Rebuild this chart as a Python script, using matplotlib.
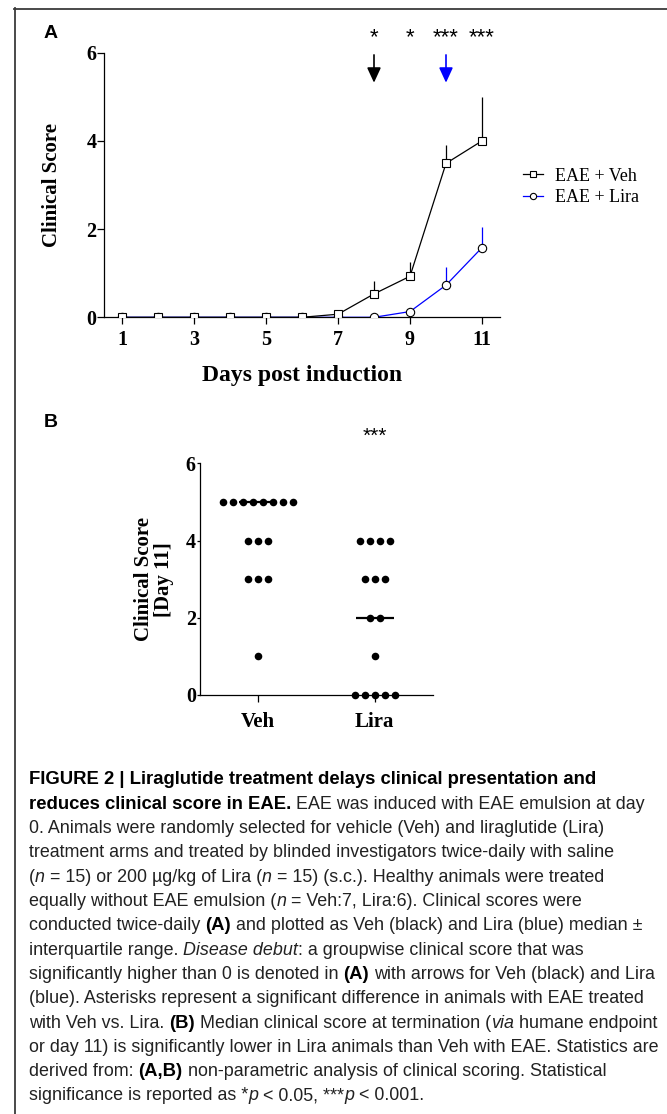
import numpy as np
import matplotlib
matplotlib.use("Agg")
import matplotlib.pyplot as plt
from matplotlib.lines import Line2D

# ---- data ----
days = [1, 2, 3, 4, 5, 6, 7, 8, 9, 10, 11]
veh_median = [0, 0, 0, 0, 0, 0, 0.07, 0.53, 0.93, 3.49, 4.0]
veh_q3 = [0, 0, 0, 0, 0, 0, 0.07, 0.82, 1.25, 3.9, 5.0]
lira_median = [0, 0, 0, 0, 0, 0, 0, 0, 0.13, 0.73, 1.58]
lira_q3 = [0, 0, 0, 0, 0, 0, 0, 0, 0.13, 1.13, 2.05]

sig_days = [8, 9, 10, 11]
sig_marks = ["*", "*", "***", "***"]
onset_veh = 8
onset_lira = 10

grupos = ["Veh", "Lira"]
veh_dia11 = [5, 5, 5, 5, 5, 5, 5, 5, 4, 4, 4, 3, 3, 3, 1]
lira_dia11 = [4, 4, 4, 4, 3, 3, 3, 2, 2, 1, 0, 0, 0, 0, 0]

W, H = 667, 1114
SERIF = "Liberation Serif"
SANS = "Liberation Sans"
TXT = "#222222"


def fx(px):
    return px / W


def fy(py):
    return 1 - py / H


fig = plt.figure(figsize=(W / 100, H / 100), dpi=100)

# marco parcial (arriba e izquierda)
fig.add_artist(Line2D([fx(14), 1], [fy(8.5), fy(8.5)], color="#3a3a3a", lw=1.3))
fig.add_artist(Line2D([fx(14.5), fx(14.5)], [fy(8), 0], color="#3a3a3a", lw=1.3))

# ---------------- panel A ----------------
axA = fig.add_axes([fx(104), fy(317.3), (500 - 104) / W, (317.3 - 52.7) / H])

lm = np.array(lira_median)
vm = np.array(veh_median)
axA.errorbar(days, lm, yerr=[np.zeros(len(days)), np.array(lira_q3) - lm],
             fmt="none", ecolor="blue", elinewidth=0.9, capsize=0, zorder=2)
hl, = axA.plot(days, lm, color="blue", lw=0.9, marker="o", ms=6,
               mfc="white", mec="black", mew=0.8, zorder=3, label="EAE + Lira")
axA.errorbar(days, vm, yerr=[np.zeros(len(days)), np.array(veh_q3) - vm],
             fmt="none", ecolor="black", elinewidth=0.9, capsize=0, zorder=4)
hv, = axA.plot(days, vm, color="black", lw=0.9, marker="s", ms=6.3,
               mfc="white", mec="black", mew=0.8, zorder=5, label="EAE + Veh")

axA.set_xlim(0.5, 11.5)
axA.set_ylim(0, 6)
axA.set_xticks([1, 3, 5, 7, 9, 11])
axA.set_yticks([0, 2, 4, 6])
for sp in ["top", "right"]:
    axA.spines[sp].set_visible(False)
for sp in ["left", "bottom"]:
    axA.spines[sp].set_linewidth(0.9)
axA.tick_params(axis="both", direction="out", length=5, width=0.9)
axA.tick_params(axis="y", pad=0.5)
axA.tick_params(axis="x", pad=4)
for lab in axA.get_xticklabels() + axA.get_yticklabels():
    lab.set_fontfamily(SERIF)
    lab.set_fontweight("bold")
    lab.set_fontsize(14.5)

axA.set_ylabel("Clinical Score", family=SERIF, weight="bold", fontsize=15)
axA.yaxis.set_label_coords((62 - 104) / 396, 0.5)
axA.set_xlabel("Days post induction", family=SERIF, weight="bold", fontsize=17)
axA.xaxis.set_label_coords(0.5, -0.18)

for d, m in zip(sig_days, sig_marks):
    axA.text(d, 6.22, m, ha="center", va="baseline", fontsize=16,
             family=SANS, clip_on=False)

for d, c in [(onset_veh, "black"), (onset_lira, "blue")]:
    axA.annotate("", xy=(d, 5.32), xytext=(d, 5.95), annotation_clip=False,
                 arrowprops=dict(arrowstyle="-|>,head_length=0.65,head_width=0.3",
                                 color=c, lw=1.2, shrinkA=0, shrinkB=0,
                                 mutation_scale=14))

fig.legend(handles=[hv, hl], loc="center left",
           bbox_to_anchor=(fx(523), fy(187)), frameon=False,
           prop={"family": SERIF, "size": 13}, handlelength=1.1,
           handletextpad=0.65, labelspacing=0.25, borderpad=0,
           borderaxespad=0, markerscale=0.75)

# ---------------- panel B ----------------
axB = fig.add_axes([fx(200), fy(695), 233 / W, (695 - 463.3) / H])
paso = 10 / 116.5
for i, vals in enumerate([veh_dia11, lira_dia11]):
    vals = np.array(vals)
    for v in np.unique(vals):
        n = int(np.sum(vals == v))
        offs = (np.arange(n) - (n - 1) / 2) * paso
        axB.scatter(i + offs, np.full(n, v), s=30, color="black",
                    zorder=3, clip_on=False, linewidths=0)
    med = np.median(vals)
    axB.hlines(med, i - 0.165, i + 0.165, color="black", lw=1.6, zorder=2)

axB.set_xlim(-0.5, 1.5)
axB.set_ylim(0, 6)
axB.set_xticks([0, 1])
axB.set_xticklabels(grupos)
axB.set_yticks([0, 2, 4, 6])
for sp in ["top", "right"]:
    axB.spines[sp].set_visible(False)
for sp in ["left", "bottom"]:
    axB.spines[sp].set_linewidth(0.9)
axB.tick_params(axis="y", direction="out", length=2.5, width=0.9, pad=0.5)
axB.tick_params(axis="x", direction="out", length=5, width=0.9, pad=7)
for lab in axB.get_yticklabels():
    lab.set_fontfamily(SERIF)
    lab.set_fontweight("bold")
    lab.set_fontsize(14.5)
for lab in axB.get_xticklabels():
    lab.set_fontfamily(SERIF)
    lab.set_fontweight("bold")
    lab.set_fontsize(15)
axB.set_ylabel("Clinical Score\n[Day 11]", family=SERIF, weight="bold",
               fontsize=15, linespacing=1.0)
axB.yaxis.set_label_coords((174 - 200) / 233, 0.5)
axB.text(1, 6.56, "***", ha="center", va="baseline", fontsize=15,
         family=SANS, clip_on=False)

# etiquetas de panel
fig.text(fx(44), fy(33), "A", fontsize=14, weight="bold", family=SANS, va="center")
fig.text(fx(44), fy(423), "B", fontsize=14, weight="bold", family=SANS, va="center")

# ---------------- leyenda de la figura ----------------
lineas = [
    [("FIGURE 2 | Liraglutide treatment delays clinical presentation and", "b")],
    [("reduces clinical score in EAE.", "b"), (" EAE was induced with EAE emulsion at day", "n")],
    [("0. Animals were randomly selected for vehicle (Veh) and liraglutide (Lira)", "n")],
    [("treatment arms and treated by blinded investigators twice-daily with saline", "n")],
    [("(", "n"), ("n", "i"), (" = 15) or 200 \u00b5g/kg of Lira (", "n"), ("n", "i"),
     (" = 15) (s.c.). Healthy animals were treated", "n")],
    [("equally without EAE emulsion (", "n"), ("n", "i"), (" = Veh:7, Lira:6). Clinical scores were", "n")],
    [("conducted twice-daily ", "n"), ("(A)", "b"), (" and plotted as Veh (black) and Lira (blue) median \u00b1", "n")],
    [("interquartile range. ", "n"), ("Disease debut", "i"), (": a groupwise clinical score that was", "n")],
    [("significantly higher than 0 is denoted in ", "n"), ("(A)", "b"), (" with arrows for Veh (black) and Lira", "n")],
    [("(blue). Asterisks represent a significant difference in animals with EAE treated", "n")],
    [("with Veh vs. Lira. ", "n"), ("(B)", "b"), (" Median clinical score at termination (", "n"),
     ("via", "i"), (" humane endpoint", "n")],
    [("or day 11) is significantly lower in Lira animals than Veh with EAE. Statistics are", "n")],
    [("derived from: ", "n"), ("(A,B)", "b"), (" non-parametric analysis of clinical scoring. Statistical", "n")],
    [("significance is reported as *", "n"), ("p", "i"), (" < 0.05, ***", "n"), ("p", "i"), (" < 0.001.", "n")],
]

CAP_FAMILY = ["Liberation Sans Narrow", "Liberation Sans"]
renderer = fig.canvas.get_renderer()


def props(style):
    p = dict(family=CAP_FAMILY, fontsize=12.85, color=TXT)
    if style == "b":
        p["weight"] = "bold"
        p["color"] = "black"
        p["fontsize"] = 13.3
    if style == "i":
        p["style"] = "italic"
    return p


def ancho(s, p):
    t = fig.text(0, 0, "x" + s + "x", **p)
    w1 = t.get_window_extent(renderer).width
    t.set_text("xx")
    w0 = t.get_window_extent(renderer).width
    t.remove()
    return w1 - w0


y0, dy = 780, 24.3
for k, linea in enumerate(lineas):
    x = 29.0
    y = y0 + k * dy
    for seg, st in linea:
        p = props(st)
        core = seg.lstrip(" ")
        lead = len(seg) - len(core)
        if lead:
            x += ancho(" " * lead, p)
        fig.text(fx(x), fy(y), core, va="center", ha="left", **p)
        x += ancho(core, p)

fig.savefig("out.png", dpi=100)
